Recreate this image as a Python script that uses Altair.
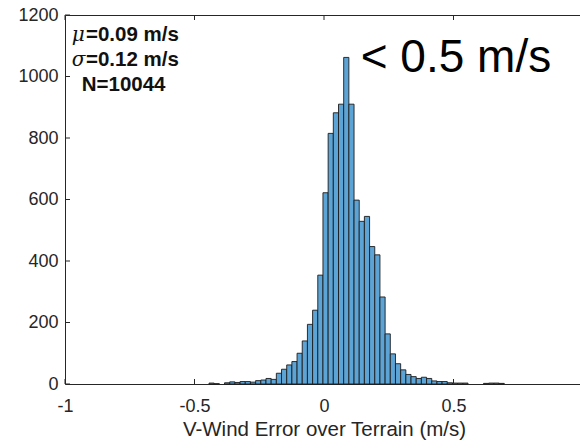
import altair as alt
import pandas as pd

# ---- data ----
bin_width = 0.02
first_edge = -0.444
counts = [3, 1, 0, 4, 7, 5, 8, 8, 6, 11, 13, 18, 15, 35, 48, 62, 73, 100, 140, 194,
          240, 354, 622, 815, 882, 910, 1062, 910, 598, 529, 545, 447, 420, 283,
          163, 98, 66, 46, 31, 24, 18, 22, 18, 10, 8, 8, 4, 3, 3, 3, 0, 0, 0,
          2, 3, 3, 2]
x_ticks = [-1, -0.5, 0, 0.5, 1]
y_ticks = [0, 200, 400, 600, 800, 1000, 1200]
stat_symbols = ["μ", "σ"]
stat_texts = ["=0.09 m/s", "=0.12 m/s", "N=10044"]
big_note = "< 0.5 m/s"
x_title = "V-Wind Error over Terrain (m/s)"

lefts = [round(first_edge + i * bin_width, 4) for i in range(len(counts))]
df = pd.DataFrame({"left": lefts,
                   "right": [round(l + bin_width, 4) for l in lefts],
                   "count": counts})
df = df[df["count"] > 0]

FONT = "Liberation Sans"
INK = "#262626"
W, H = 515, 369
xscale = alt.Scale(domain=[-1, -1 + W / 259.0], nice=False, zero=False)
yscale = alt.Scale(domain=[0, 1200], nice=False)

xaxis = alt.Axis(values=x_ticks, labelExpr="toString(datum.value)",
                 ticks=False, domain=False, grid=False,
                 labelFont=FONT, labelFontSize=18, labelColor=INK,
                 labelBaseline="alphabetic", labelPadding=27,
                 title=x_title, titleFont=FONT, titleFontSize=20.5,
                 titleFontWeight="normal", titleColor=INK,
                 titleBaseline="alphabetic", titleY=51, titleX=259,
                 titleAlign="center", labelOverlap=False, labelFlush=False)
yaxis = alt.Axis(values=y_ticks, labelExpr="toString(datum.value)",
                 ticks=False, domain=False, grid=False,
                 labelFont=FONT, labelFontSize=18, labelColor=INK,
                 labelPadding=7, title=None, labelOverlap=False)

ticks_df = pd.DataFrame({"left": x_ticks[:-1]})
yt_df = pd.DataFrame({"count": y_ticks})

tick_bottom = alt.Chart(ticks_df).mark_rule(color=INK, strokeWidth=1).encode(
    x=alt.X("left:Q", scale=xscale, axis=xaxis), y=alt.value(H), y2=alt.value(H - 5))
tick_top = alt.Chart(ticks_df).mark_rule(color=INK, strokeWidth=1).encode(
    x=alt.X("left:Q", scale=xscale, axis=xaxis), y=alt.value(0), y2=alt.value(5))
tick_left = alt.Chart(yt_df).mark_rule(color=INK, strokeWidth=1).encode(
    y=alt.Y("count:Q", scale=yscale, axis=yaxis), x=alt.value(0), x2=alt.value(5))

bars = alt.Chart(df).mark_rect(fill="#5DA4D6", stroke="#1c1c1c", strokeWidth=0.9).encode(
    x=alt.X("left:Q", scale=xscale, axis=xaxis),
    x2="right:Q",
    y=alt.Y("count:Q", scale=yscale, axis=yaxis),
    y2=alt.datum(0),
)


def note(s, x, y, **kw):
    style = dict(align="left", baseline="alphabetic", font=FONT, color="#111111")
    style.update(kw)
    return alt.Chart().mark_text(text=s, **style).encode(
        x=alt.datum(x, scale=xscale), y=alt.datum(y, scale=yscale))


sym = dict(fontSize=20, fontStyle="italic", font="DejaVu Serif")
notes = [
    note(stat_symbols[0], -0.974, 1116, **sym),
    note(stat_symbols[1], -0.974, 1035, **sym),
    note(stat_texts[0], -0.919, 1116, fontSize=20.5, fontWeight="bold"),
    note(stat_texts[1], -0.919, 1035, fontSize=20.5, fontWeight="bold"),
    note(stat_texts[2], -0.9355, 954, fontSize=20.5, fontWeight="bold"),
    note(big_note, 0.1417, 1014.6, fontSize=46, color="#000000"),
]

chart = alt.layer(tick_bottom, tick_top, tick_left, bars, *notes).properties(
    width=W, height=H,
    autosize=alt.AutoSizeParams(type="none"),
    padding={"left": 65, "top": 15, "right": 0, "bottom": 58},
    background="white",
).configure_view(stroke=INK, strokeWidth=1)

chart.save("out.html", embed_options={"renderer": "svg", "actions": False})
